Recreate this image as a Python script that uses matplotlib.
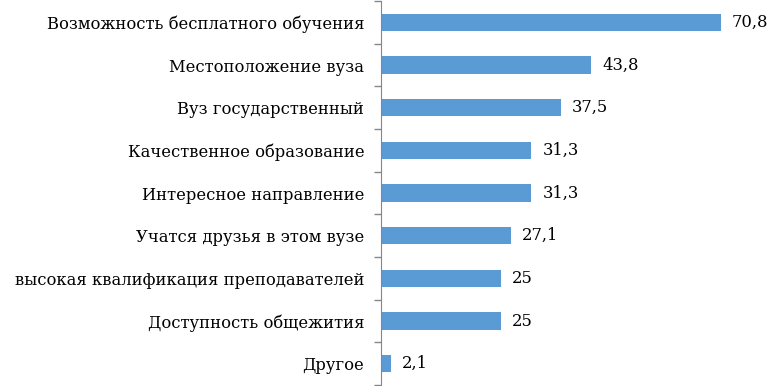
import numpy as np
import matplotlib.pyplot as plt

# Data
categories = [
    "Возможность бесплатного обучения",
    "Местоположение вуза",
    "Вуз государственный",
    "Качественное образование",
    "Интересное направление",
    "Учатся друзья в этом вузе",
    "высокая квалификация преподавателей",
    "Доступность общежития",
    "Другое",
]
values = [70.8, 43.8, 37.5, 31.3, 31.3, 27.1, 25, 25, 2.1]
value_labels = ["70,8", "43,8", "37,5", "31,3", "31,3", "27,1", "25", "25", "2,1"]

plt.rcParams['font.family'] = ['DejaVu Serif']

fig = plt.figure(figsize=(7.71, 3.86), dpi=100)
ax = fig.add_axes([381 / 771, 1 / 386, 384 / 771, 384 / 386])

y = np.arange(len(categories))
ax.barh(y, values, height=0.4, color="#5B9BD5")

for yi, v, lab in zip(y, values, value_labels):
    ax.text(v + 2.3, yi, lab, va="center", ha="left", fontsize=11.8, color="black")

ax.set_ylim(len(categories) - 0.5, -0.5)
ax.set_xlim(0, 80)

ax.set_yticks(y)
ax.set_yticklabels(categories, fontsize=11.8, color="black")
ax.tick_params(axis="y", which="major", length=0, pad=12)
ax.set_yticks(np.arange(-0.5, len(categories)), minor=True)
ax.tick_params(axis="y", which="minor", length=5, color="#868686", width=1)

ax.set_xticks([])
for s in ["top", "right", "bottom"]:
    ax.spines[s].set_visible(False)
ax.spines["left"].set_color("#868686")

fig.savefig("out.png", dpi=100)
